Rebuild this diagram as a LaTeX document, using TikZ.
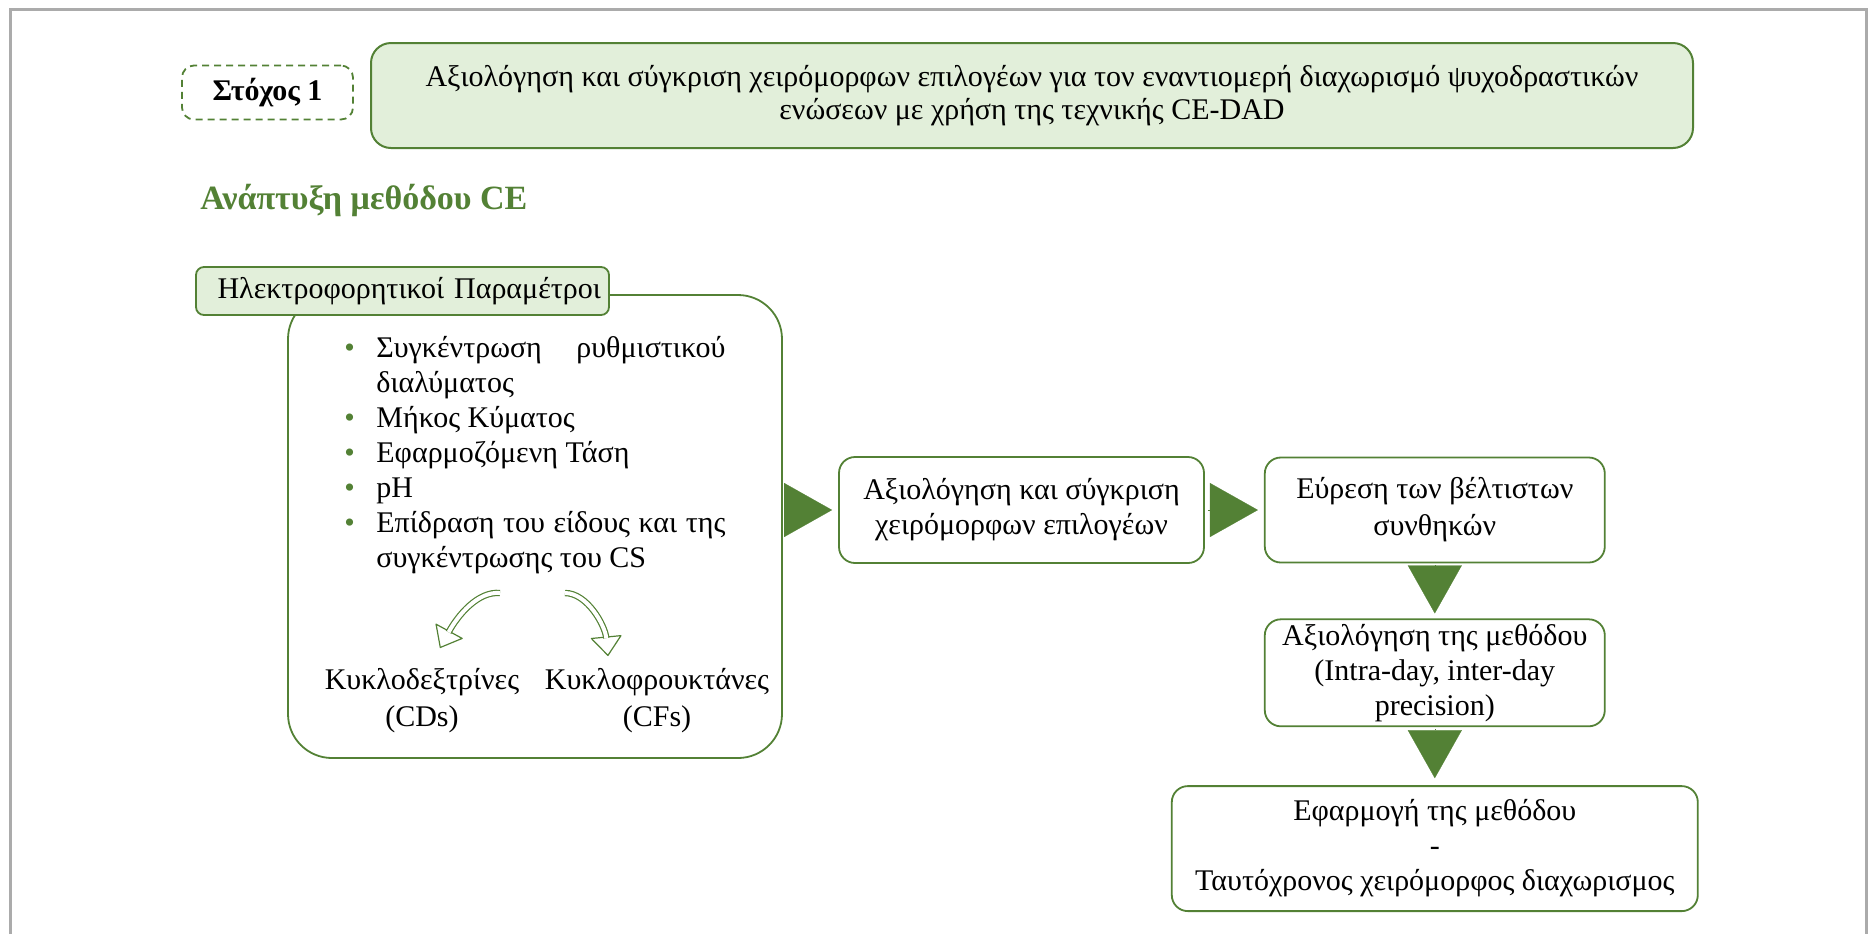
\documentclass[tikz,border=0pt]{standalone}
\usepackage{fontspec}
\setmainfont{Liberation Serif}
\usetikzlibrary{arrows.meta, positioning, calc}
\definecolor{LeafGreen}{HTML}{538135}
\definecolor{PaleGreen}{HTML}{E2EFDA}
\definecolor{FrameGrey}{HTML}{ABABAB}
\newcommand{\bul}{\makebox[16pt][l]{\textcolor{LeafGreen}{\textbullet}}}
\tikzset{
  goalbox/.style={draw=LeafGreen, line width=1pt, rounded corners=10pt, fill=PaleGreen,
    align=center, inner sep=0pt, font=\fontsize{15pt}{16.5pt}\selectfont},
  tagbox/.style={draw=LeafGreen, line width=0.9pt, dash pattern=on 3.5pt off 2.5pt,
    rounded corners=6pt, align=center, inner sep=0pt, font=\fontsize{15pt}{17pt}\selectfont\bfseries},
  wbox/.style={draw=LeafGreen, line width=0.9pt, rounded corners=8pt, fill=white,
    align=center, inner sep=0pt, font=\fontsize{15pt}{17.5pt}\selectfont},
  panel/.style={draw=LeafGreen, line width=0.9pt, rounded corners=22pt, inner sep=0pt},
  ptag/.style={draw=LeafGreen, line width=0.9pt, rounded corners=4pt, fill=PaleGreen,
    align=right, inner ysep=0pt, inner xsep=4pt, font=\fontsize{15pt}{17pt}\selectfont},
  cdtext/.style={align=center, inner sep=0pt, font=\fontsize{15pt}{18.5pt}\selectfont},
  tri/.style={-{Triangle[length=24pt, width=27pt]}, draw=LeafGreen, line width=0.1pt},
  hshaft/.style={draw=LeafGreen, line width=0.6pt, double=white, double distance=2pt,
    shorten >=9pt},
  hhead/.style={-{Triangle[length=10pt, width=16pt, fill=white, round]}, draw=LeafGreen,
    line width=0.6pt},
}
\begin{document}
\begin{tikzpicture}[x=0.5pt, y=-0.5pt]
  \useasboundingbox (0,0) rectangle (1876,934);
  \draw[FrameGrey, line width=1.5pt] (10,934) -- (10,9) -- (1866,9) -- (1866,934);
  % aim
  \node[tagbox, minimum width=85.5pt, minimum height=27pt] (tag) at (267.5,92.5) {Στόχος 1};
  \node[goalbox, minimum width=661pt, minimum height=52.5pt] (goal) at (1032,95.5)
    {Αξιολόγηση και σύγκριση χειρόμορφων επιλογέων για τον εναντιομερή διαχωρισμό ψυχοδραστικών\\ενώσεων με χρήση της τεχνικής CE-DAD};
  \node[anchor=base west, inner sep=0pt, text=LeafGreen,
    font=\fontsize{17pt}{20pt}\selectfont\bfseries] (dev) at (200,209) {Ανάπτυξη μεθόδου CE};
  % parameters
  \node[panel, minimum width=247pt, minimum height=231.5pt] (panel) at (535,526.5) {};
  \node[ptag, minimum height=24pt, text width=198.5pt] (ptag) at (402.5,291) {Ηλεκτροφορητικοί Παραμέτροι};
  \node[anchor=north west, align=left, inner sep=0pt,
    font=\fontsize{15pt}{17.5pt}\selectfont] (params) at (344,336) {%
    \bul\makebox[174.5pt][s]{Συγκέντρωση ρυθμιστικού}\\
    \hspace*{16pt}διαλύματος\\
    \bul Μήκος Κύματος\\
    \bul Εφαρμοζόμενη Τάση\\
    \bul pH\\
    \bul\makebox[174.5pt][s]{Επίδραση του είδους και της}\\
    \hspace*{16pt}συγκέντρωσης του CS};
  \node[cdtext] (cd) at (422,701) {Κυκλοδεξτρίνες\\(CDs)};
  \node[cdtext] (cf) at (657,701) {Κυκλοφρουκτάνες\\(CFs)};
  \coordinate (cdtail) at (500,593);
  \coordinate (cdtip) at (440,648);
  \coordinate (cftail) at (565,593);
  \coordinate (cftip) at (608,656);
  \draw[hhead] ($(cdtip)!11pt!(458,615)$) -- (cdtip);
  \draw[hshaft] (cdtail) .. controls (478,591) and (458,615) .. (cdtip);
  \draw[hhead] ($(cftip)!11pt!(605,625)$) -- (cftip);
  \draw[hshaft] (cftail) .. controls (587,593) and (605,625) .. (cftip);
  % flow
  \node[wbox, minimum width=182.5pt, minimum height=53pt] (cmp) at (1021.5,510)
    {Αξιολόγηση και σύγκριση\\χειρόμορφων επιλογέων};
  \node[wbox, minimum width=170pt, minimum height=52.5pt, right=29.5pt of cmp,
    font=\fontsize{15pt}{18.5pt}\selectfont] (opt) {Εύρεση των βέλτιστων\\συνθηκών};
  \node[wbox, minimum width=170pt, minimum height=53.5pt, below=27.5pt of opt] (val)
    {Αξιολόγηση της μεθόδου\\(Intra-day, inter-day\\precision)};
  \node[wbox, minimum width=263pt, minimum height=62.5pt, below=29pt of val] (app)
    {Εφαρμογή της μεθόδου\\-\\Ταυτόχρονος χειρόμορφος διαχωρισμος};
  \draw[tri, shorten <=1.5pt, shorten >=3pt] (panel.east |- cmp.west) -- (cmp.west);
  \draw[tri, shorten <=1.5pt, shorten >=3pt] (cmp) -- (opt);
  \draw[tri, shorten <=1pt, shorten >=2.5pt] (opt) -- (val);
  \draw[tri, shorten <=1pt, shorten >=3.5pt] (val) -- (app);
\end{tikzpicture}
\end{document}
